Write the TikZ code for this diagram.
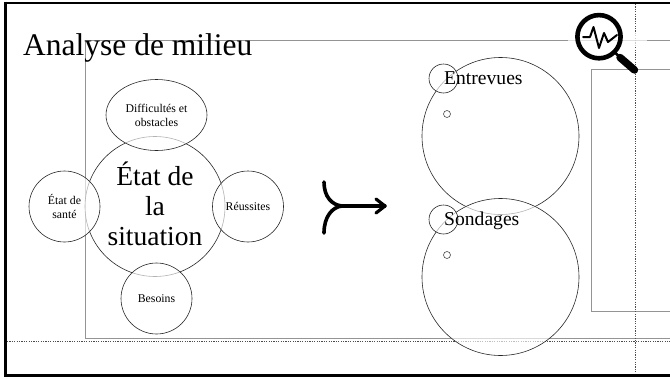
\documentclass[tikz,border=0pt]{standalone}
\usepackage{fontspec}
\usetikzlibrary{shapes.geometric}
\setmainfont{Liberation Serif}
\tikzset{
  x=1pt,y=-1pt,
  bubble/.style={circle,draw=black!85,line width=.6pt,fill=white,fill opacity=.65,text opacity=1,draw opacity=1,inner sep=0pt,align=center,font=\fontsize{11.8}{14}\selectfont},
  guide/.style={draw=black!42,line width=.9pt},
  dots/.style={draw=black!70,line width=.6pt,dash pattern=on 1.2pt off 1.2pt},
  iconline/.style={line cap=round,line join=round,draw=black},
}
\begin{document}
\begin{tikzpicture}
\useasboundingbox (0,0) rectangle (670,378);
% guides
\draw[guide] (670,40.5) -- (85,40.5) -- (85,338.7) -- (670,338.7);
\draw[guide] (670,69.5) -- (591.7,69.5) -- (591.7,311) -- (670,311);
\draw[dots] (7,340.8) -- (670,340.8);
\draw[dots] (635.3,4) -- (635.3,375);
% title
\node[anchor=base west,inner sep=0pt,font=\fontsize{31.5}{33}\selectfont] (title) at (23,55) {Analyse de milieu};
% left cluster
\node[bubble,minimum size=140pt] (etat) at (155,206.5) {};
\node[anchor=center,align=center,inner sep=0pt,font=\fontsize{27.5}{30}\selectfont] (etatL) at (155,203.5) {État de\\la\\situation};
\node[bubble,ellipse,minimum width=101pt,minimum height=71pt] (diff) at (156.5,115) {Difficultés et\\obstacles};
\node[bubble,minimum size=71pt] (sante) at (64.5,206.5) {État de\\santé};
\node[bubble,minimum size=71pt] (reuss) at (248,206.5) {Réussites};
\node[bubble,minimum size=71pt] (bes) at (156.5,298.5) {Besoins};
% arrow
\draw[iconline,line width=3.6pt] (324,182) .. controls (324,197) and (332,205) .. (342,206)
  .. controls (332,207) and (324,217) .. (324,233);
\draw[iconline,line width=3.2pt] (342,206) -- (385,206);
\draw[iconline,line width=3.2pt] (376,199) -- (385,206) -- (376,213);
% right cluster
\node[bubble,minimum size=157pt] (entC) at (500.5,136) {};
\node[bubble,minimum size=29pt] (entS) at (443.5,78.5) {};
\node[bubble,minimum size=7pt,draw=black!70] (entT) at (447,114) {};
\node[bubble,minimum size=157pt] (sonC) at (500.5,277) {};
\node[bubble,minimum size=29pt] (sonS) at (443.5,219.5) {};
\node[bubble,minimum size=7pt,draw=black!70] (sonT) at (447,255) {};
\node[anchor=base west,inner sep=0pt,font=\fontsize{19.6}{22}\selectfont] (entL) at (444,84) {Entrevues};
\node[anchor=base west,inner sep=0pt,font=\fontsize{19.6}{22}\selectfont] (sonL) at (444,225) {Sondages};
% icon
\fill[white,opacity=.7] (568,33) rectangle (647,47);
\draw[iconline,line width=4.6pt] (599,36.7) circle (21.6);
\draw[iconline,line width=2.6pt] (614.5,52) -- (620,57.5);
\draw[iconline,line width=7.5pt] (620,57.5) -- (634.5,70);
\draw[iconline,line width=2pt] (583,37) -- (590,37) -- (593.5,27) -- (599,48) -- (604,33) -- (608,42) -- (617,35);
% frame
\draw[black,line width=2.6pt] (5.5,3) -- (670,3) (5.5,375.7) -- (670,375.7) (5.5,1.7) -- (5.5,377);
\end{tikzpicture}
\end{document}
